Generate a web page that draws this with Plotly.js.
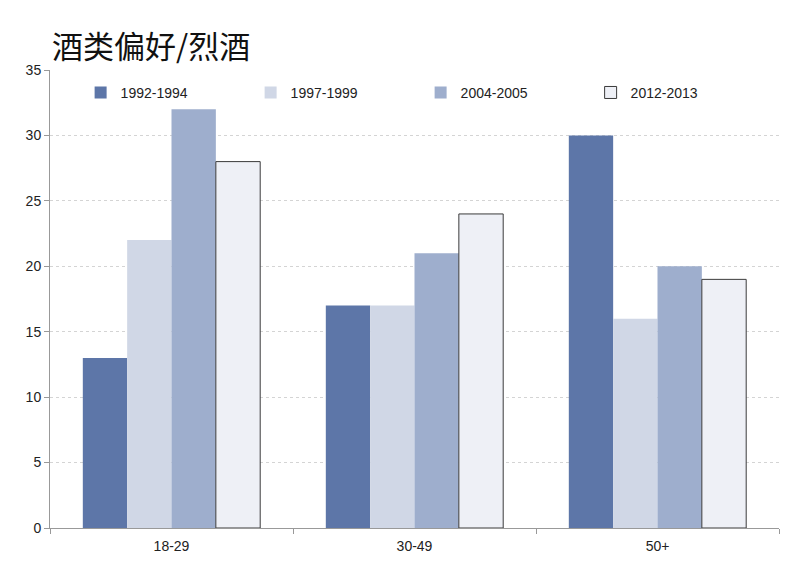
<!DOCTYPE html>
<html><head><meta charset="utf-8">
<script src="https://cdn.plot.ly/plotly-3.0.1.min.js"></script>
<style>html,body{margin:0;padding:0;background:#fff}</style>
</head><body>
<div id="chart" style="width:800px;height:569px"></div>
<script>
const categories = ["18-29", "30-49", "50+"];
const seriesNames = ["1992-1994", "1997-1999", "2004-2005", "2012-2013"];
const s1992 = [13, 17, 30];
const s1997 = [22, 17, 16];
const s2004 = [32, 21, 20];
const s2012 = [28, 24, 19];
const yTicks = [0, 5, 10, 15, 20, 25, 30, 35];

const colors = ["#5d76a8", "#d0d7e6", "#9eaecd", "#eef0f6"];
const lineColors = ["#5d76a8", "#d0d7e6", "#9eaecd", "#3a3a3a"];
const lineWidths = [0, 0, 0, 1];
const allSeries = [s1992, s1997, s2004, s2012];

const traces = allSeries.map((vals, i) => ({
  type: "bar",
  name: seriesNames[i],
  x: categories,
  y: vals,
  marker: {color: colors[i], line: {color: lineColors[i], width: lineWidths[i]}},
  hoverinfo: "x+y+name"
}));

const layout = {
  width: 800, height: 569,
  margin: {l: 50, r: 21, t: 70, b: 41},
  paper_bgcolor: "#fff", plot_bgcolor: "#fff",
  font: {family: "Liberation Sans, Arial, sans-serif", size: 14, color: "#222"},
  title: {text: "酒类偏好/烈酒", x: 0.065, xanchor: "left", y: 0.917, yanchor: "middle",
          font: {family: "Noto Sans CJK SC, sans-serif", size: 31, color: "#111"}},
  barmode: "group",
  bargap: 0.27,
  bargroupgap: 0,
  showlegend: true,
  legend: {orientation: "h", x: 0.042, y: 0.985, xanchor: "left", yanchor: "top",
           entrywidth: 125, entrywidthmode: "pixels", traceorder: "normal",
           font: {size: 14, color: "#222"}, bgcolor: "rgba(0,0,0,0)"},
  xaxis: {type: "category", showline: true, linecolor: "#999", linewidth: 1,
          ticks: "outside", tickson: "boundaries", ticklen: 5, tickcolor: "#999",
          ticklabelstandoff: 5,
          showgrid: false, tickfont: {size: 14, color: "#222"}},
  yaxis: {range: [0, 35], tickvals: yTicks, showline: true, linecolor: "#999", linewidth: 1,
          ticks: "outside", ticklen: 5, tickcolor: "#999",
          showgrid: true, gridcolor: "#d4d4d4", griddash: "3px,3px", gridwidth: 1,
          zeroline: false, tickfont: {size: 14, color: "#222"}}
};

Plotly.newPlot("chart", traces, layout, {displayModeBar: false, staticPlot: true});
</script>
</body></html>
